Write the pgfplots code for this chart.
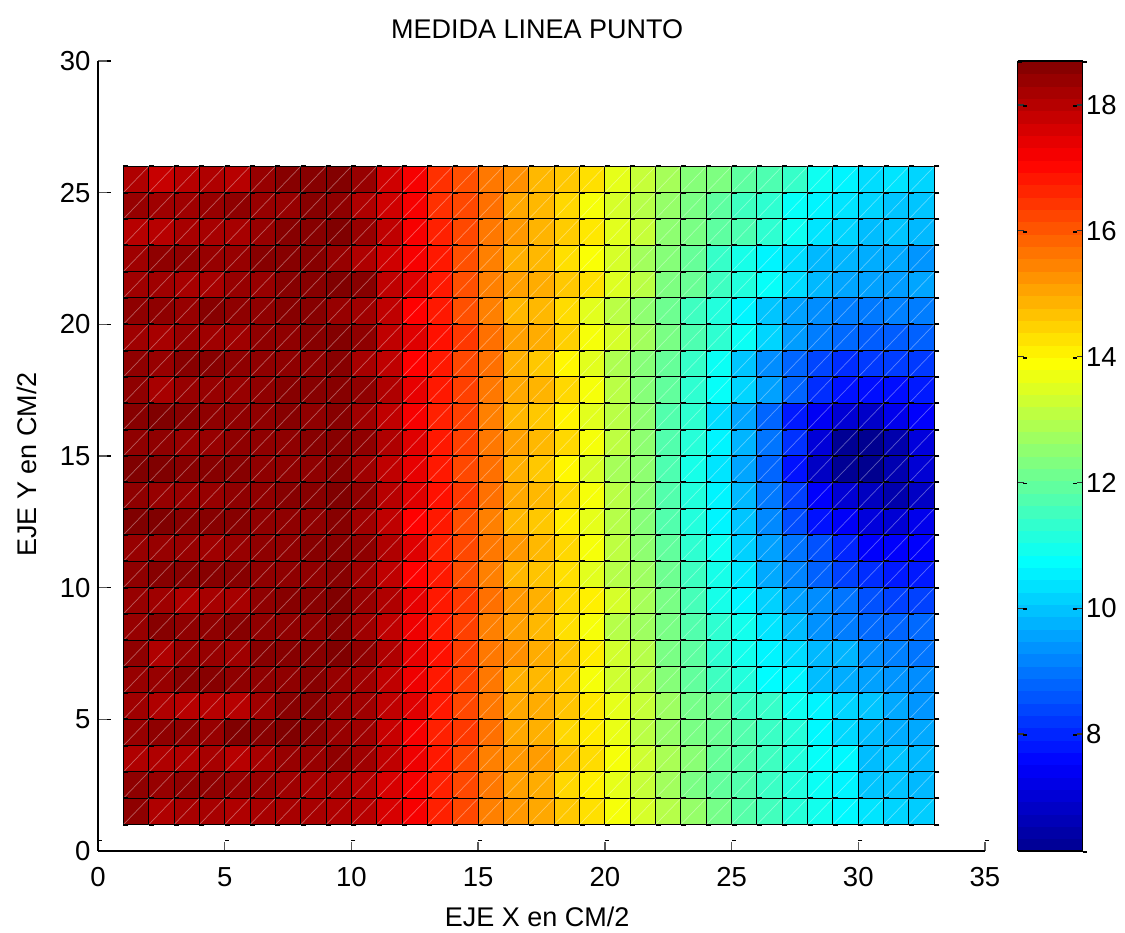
\documentclass[border=0pt]{standalone}
\usepackage{fontspec}
\setmainfont{Liberation Sans}
\usepackage{pgfplots}
\usepackage{pgfplotstable}
\pgfplotsset{compat=1.18}
\newcommand{\bigf}{\fontsize{27}{30}\selectfont}
\newcommand{\tickf}{\fontsize{27.5}{30}\selectfont}
\pgfplotstableread[row sep=crcr]{
c\\
18.5\\18.1\\18.2\\18.2\\18.1\\18.2\\18.2\\18.2\\18.1\\18.0\\17.6\\17.2\\16.7\\16.2\\15.5\\15.2\\15.0\\14.6\\14.3\\13.8\\13.4\\13.0\\12.6\\12.2\\11.8\\11.55\\11.2\\10.95\\10.65\\10.4\\10.2\\10.1\\10.1\\
18.5\\18.4\\18.5\\18.5\\18.4\\18.4\\18.3\\18.2\\18.2\\18.0\\17.6\\17.2\\16.7\\16.2\\15.6\\15.1\\14.95\\14.4\\14.1\\13.6\\13.2\\12.75\\12.25\\11.95\\11.75\\11.45\\11.15\\10.85\\10.6\\10.0\\10.0\\9.85\\9.85\\
18.1\\18.1\\18.1\\18.2\\18.0\\18.2\\18.4\\18.4\\18.5\\18.3\\17.9\\17.3\\16.8\\16.2\\15.5\\15.2\\15.15\\14.7\\14.35\\13.8\\13.3\\12.85\\12.45\\12.0\\11.75\\11.5\\11.15\\10.8\\10.65\\9.9\\10.0\\9.85\\9.85\\
18.4\\18.5\\18.5\\18.4\\18.7\\18.6\\18.7\\18.6\\18.4\\18.3\\17.8\\17.2\\16.7\\16.4\\15.7\\15.0\\14.9\\14.4\\14.15\\13.65\\13.05\\12.6\\12.25\\12.05\\11.75\\11.45\\11.2\\10.65\\10.25\\9.9\\9.7\\9.65\\9.65\\
18.3\\18.1\\18.0\\18.0\\18.0\\18.3\\18.6\\18.6\\18.4\\18.3\\17.9\\17.5\\16.8\\16.2\\15.6\\15.0\\14.95\\14.65\\14.2\\13.6\\13.2\\12.7\\12.2\\12.05\\11.5\\11.4\\10.9\\10.6\\10.2\\10.0\\9.65\\9.4\\9.4\\
18.4\\18.4\\18.6\\18.6\\18.5\\18.5\\18.5\\18.6\\18.4\\18.3\\17.9\\17.3\\16.8\\16.3\\15.6\\14.9\\14.8\\14.55\\13.8\\13.3\\13.0\\12.4\\11.95\\11.5\\11.15\\10.7\\10.6\\9.9\\9.7\\9.55\\9.4\\9.3\\9.3\\
18.5\\18.1\\18.4\\18.4\\18.3\\18.6\\18.6\\18.6\\18.7\\18.5\\18.1\\17.4\\16.9\\16.3\\15.6\\15.3\\14.95\\14.65\\14.15\\13.35\\13.0\\12.25\\11.9\\11.3\\10.95\\10.6\\10.3\\9.85\\9.8\\9.3\\9.15\\9.0\\9.0\\
18.4\\18.6\\18.5\\18.5\\18.6\\18.5\\18.5\\18.5\\18.6\\18.3\\17.9\\17.3\\16.8\\16.3\\15.5\\15.1\\14.8\\14.3\\13.8\\13.0\\12.7\\12.25\\11.75\\11.3\\10.95\\10.4\\9.9\\9.35\\9.1\\8.85\\8.8\\8.85\\8.85\\
18.4\\18.3\\18.1\\18.2\\18.2\\18.5\\18.6\\18.6\\18.7\\18.4\\18.1\\17.4\\16.8\\16.4\\15.7\\15.2\\14.9\\14.4\\14.1\\13.4\\12.8\\12.25\\11.6\\11.0\\10.6\\10.15\\9.55\\9.3\\9.0\\8.55\\8.35\\8.35\\8.35\\
18.5\\18.6\\18.6\\18.6\\18.6\\18.5\\18.5\\18.5\\18.6\\18.3\\17.9\\17.1\\16.8\\16.1\\15.5\\14.8\\14.65\\14.3\\13.55\\13.0\\12.7\\12.1\\11.5\\11.0\\10.45\\9.65\\9.2\\8.75\\8.35\\8.1\\7.85\\7.85\\7.85\\
18.4\\18.4\\18.4\\18.3\\18.4\\18.5\\18.5\\18.6\\18.6\\18.5\\18.1\\17.5\\16.7\\16.2\\15.6\\15.2\\14.8\\14.4\\13.8\\13.1\\12.5\\11.95\\11.3\\10.9\\10.15\\9.55\\9.0\\8.55\\8.0\\7.5\\7.5\\7.5\\7.5\\
18.7\\18.7\\18.6\\18.6\\18.6\\18.5\\18.5\\18.5\\18.6\\18.3\\17.9\\17.1\\16.8\\16.1\\15.5\\14.8\\14.6\\14.1\\13.6\\13.0\\12.4\\11.75\\11.15\\10.6\\10.0\\9.25\\8.5\\7.75\\7.45\\7.1\\7.0\\7.3\\7.3\\
18.5\\18.4\\18.4\\18.4\\18.5\\18.5\\18.6\\18.6\\18.7\\18.5\\18.0\\17.5\\16.9\\16.4\\15.7\\15.0\\14.8\\14.4\\13.8\\13.05\\12.45\\11.75\\11.15\\10.6\\9.85\\9.05\\8.35\\7.5\\7.0\\6.75\\6.5\\6.8\\6.8\\
18.7\\18.7\\18.6\\18.6\\18.6\\18.5\\18.5\\18.5\\18.6\\18.3\\17.9\\17.4\\16.8\\16.2\\15.7\\14.9\\14.6\\14.0\\13.4\\12.8\\12.5\\11.7\\11.0\\10.4\\9.6\\8.8\\7.75\\6.8\\6.2\\6.14\\6.55\\7.0\\7.0\\
18.5\\18.5\\18.4\\18.4\\18.5\\18.5\\18.5\\18.6\\18.6\\18.5\\18.1\\17.5\\16.8\\16.3\\15.6\\15.1\\14.8\\14.4\\13.8\\13.1\\12.5\\11.75\\11.2\\10.6\\9.8\\9.0\\8.15\\7.05\\6.2\\6.15\\6.5\\7.1\\7.1\\
18.6\\18.7\\18.6\\18.5\\18.5\\18.5\\18.6\\18.5\\18.6\\18.3\\17.9\\17.2\\16.7\\16.3\\15.5\\14.8\\14.6\\14.05\\13.55\\13.05\\12.5\\11.75\\11.3\\10.3\\9.6\\8.8\\7.85\\7.4\\7.0\\6.85\\7.3\\7.5\\7.5\\
18.5\\18.2\\18.4\\18.4\\18.4\\18.5\\18.6\\18.6\\18.6\\18.5\\18.1\\17.4\\16.8\\16.3\\15.6\\15.0\\14.85\\14.4\\13.8\\13.05\\12.4\\11.95\\11.3\\10.8\\10.2\\9.55\\8.8\\8.1\\7.75\\7.7\\7.7\\7.85\\7.85\\
18.5\\18.4\\18.6\\18.6\\18.5\\18.5\\18.5\\18.5\\18.6\\18.2\\17.9\\17.1\\16.8\\16.2\\15.7\\14.9\\14.6\\14.0\\13.55\\12.9\\12.4\\12.0\\11.4\\10.85\\10.0\\9.3\\8.8\\8.4\\8.1\\8.25\\8.3\\8.25\\8.25\\
18.3\\18.2\\18.4\\18.3\\18.3\\18.5\\18.5\\18.6\\18.65\\18.5\\17.9\\17.5\\16.9\\16.4\\15.7\\15.1\\14.95\\14.5\\13.8\\13.4\\12.75\\12.25\\11.7\\11.3\\10.85\\10.2\\9.5\\9.1\\8.85\\8.7\\8.7\\8.75\\8.75\\
18.5\\18.5\\18.4\\18.6\\18.5\\18.5\\18.6\\18.6\\18.4\\18.3\\17.9\\17.1\\16.8\\16.1\\15.5\\14.8\\14.8\\14.35\\13.55\\13.05\\12.5\\12.1\\11.5\\11.15\\10.6\\10.0\\9.55\\9.3\\9.1\\9.05\\9.15\\9.1\\9.1\\
18.3\\18.3\\18.2\\18.2\\18.4\\18.4\\18.6\\18.6\\18.7\\18.6\\17.9\\17.5\\16.8\\16.1\\15.5\\15.1\\14.95\\14.6\\14.3\\13.5\\13.05\\12.3\\12.05\\11.5\\11.15\\10.8\\10.3\\9.85\\9.6\\9.55\\9.5\\9.6\\9.6\\
18.3\\18.5\\18.5\\18.4\\18.4\\18.6\\18.6\\18.6\\18.4\\18.1\\17.7\\17.2\\16.8\\16.1\\15.5\\14.9\\14.8\\14.3\\13.85\\13.4\\12.75\\12.4\\12.0\\11.4\\11.0\\10.6\\10.3\\9.85\\9.8\\9.7\\9.65\\9.4\\9.4\\
18.0\\18.0\\18.2\\18.2\\18.2\\18.4\\18.6\\18.6\\18.7\\18.4\\17.9\\17.2\\16.7\\16.2\\15.6\\15.2\\14.85\\14.55\\14.2\\13.55\\13.2\\12.5\\12.25\\11.9\\11.7\\11.3\\10.9\\10.4\\10.2\\9.9\\10.0\\9.85\\9.85\\
18.4\\18.3\\18.3\\18.4\\18.5\\18.4\\18.4\\18.6\\18.5\\18.1\\17.7\\17.2\\16.5\\16.2\\15.7\\15.0\\14.8\\14.4\\13.8\\13.4\\13.0\\12.6\\12.25\\11.9\\11.5\\11.3\\10.8\\10.6\\10.4\\10.2\\10.0\\10.0\\10.0\\
18.1\\17.8\\18.0\\18.1\\18.0\\18.4\\18.6\\18.6\\18.65\\18.4\\17.7\\17.2\\16.5\\16.1\\15.6\\15.3\\14.8\\14.6\\14.3\\13.6\\13.2\\12.8\\12.4\\12.3\\11.9\\11.7\\11.4\\10.9\\10.6\\10.3\\10.4\\10.2\\10.2\\
18.1\\17.8\\18.0\\18.1\\18.0\\18.4\\18.6\\18.6\\18.65\\18.4\\17.7\\17.2\\16.5\\16.1\\15.6\\15.3\\14.8\\14.6\\14.3\\13.6\\13.2\\12.8\\12.4\\12.3\\11.9\\11.7\\11.4\\10.9\\10.6\\10.3\\10.4\\10.2\\10.2\\
}\cells
\pgfplotstablecreatecol[create col/expr={mod(\pgfplotstablerow,33)+1}]{xc}{\cells}
\pgfplotstablecreatecol[create col/expr={floor((\pgfplotstablerow+0.5)/33)+1}]{yc}{\cells}
\begin{document}
\begin{tikzpicture}[x=1pt,y=1pt]
\path[use as bounding box] (0,0) rectangle (1125,933);
\begin{axis}[
  at={(98pt,82pt)}, anchor=south west,
  scale only axis, width=887pt, height=790pt,
  xmin=0, xmax=35, ymin=0, ymax=30,
  axis lines=left, axis line style={-, line width=1.5pt},
  xtick={0,5,...,35}, ytick={0,5,...,30},
  tick align=inside, major tick length=9pt,
  tick style={color=black!65, line width=1.3pt},
  /pgf/number format/assume math mode=true,
  ticklabel style={font=\tickf},
  xticklabel style={yshift=-13pt}, yticklabel style={xshift=-4pt},
  title={MEDIDA LINEA PUNTO},
  title style={font=\bigf, at={(0.495,1)}, anchor=center, yshift=26pt},
  xlabel={EJE X en CM/2},
  xlabel style={font=\bigf, at={(0.495,0)}, anchor=center, yshift=-66pt},
  ylabel={EJE Y en CM/2},
  ylabel style={font=\bigf, at={(-0.08,0.489)}, anchor=center},
  colormap={mjet}{rgb(0cm)=(0,0,0.5625); rgb(7cm)=(0,0,1); rgb(23cm)=(0,1,1); rgb(39cm)=(1,1,0); rgb(55cm)=(1,0,0); rgb(63cm)=(0.5,0,0)},
  point meta min=6.14, point meta max=18.7,
  colorbar sampled,
  colorbar style={
    samples=65,
    scale only axis, width=65pt, height=790pt,
    at={(parent axis.south east)}, anchor=south west, xshift=24pt,
    ytick={8,10,12,14,16,18},
    tick align=inside, major tick length=6pt,
    ytick pos=both, yticklabel pos=right,
    tick style={color=black!80, line width=1.2pt},
    axis line style={line width=1.5pt},
    /pgf/number format/assume math mode=true,
    yticklabel style={font=\tickf, xshift=0pt},
    extra description/.code={
      \foreach \v in {8,10,12,14,16,18} {
        \draw[black,line width=1.8pt] (axis cs:0.09,\v) ++(0,-1pt) -- ++(4pt,0);
        \draw[black,line width=1.8pt] (axis cs:0.91,\v) ++(0,-1pt) -- ++(-4pt,0);
      }
      \draw[black,line width=1.8pt] (axis cs:0,18.7) ++(0,-1pt) -- ++(4pt,0);
      \draw[black,line width=1.8pt] (axis cs:1,18.7) ++(0,-1pt) -- ++(4pt,0);
      \draw[black,line width=1.8pt] (axis cs:1,6.14) ++(0,-1pt) -- ++(4pt,0);
    },
  },
  clip=false,
]
\addplot[surf, shader=flat corner, draw=black, mesh/cols=33, mesh/ordering=x varies, point meta=explicit, line width=1pt, forget plot]
  table[x=xc, y=yc, meta=c] {\cells};
\addplot[white, opacity=0.35, line width=0.7pt, forget plot, unbounded coords=jump] coordinates {
(1,25)(2,26) (nan,nan)(1,24)(3,26) (nan,nan)(1,23)(4,26) (nan,nan)(1,22)(5,26) (nan,nan)(1,21)(6,26) (nan,nan)(1,20)(7,26) (nan,nan)(1,19)(8,26) (nan,nan)(1,18)(9,26) (nan,nan)
(1,17)(10,26) (nan,nan)(1,16)(11,26) (nan,nan)(1,15)(12,26) (nan,nan)(1,14)(13,26) (nan,nan)(1,13)(14,26) (nan,nan)(1,12)(15,26) (nan,nan)(1,11)(16,26) (nan,nan)(1,10)(17,26) (nan,nan)
(1,9)(18,26) (nan,nan)(1,8)(19,26) (nan,nan)(1,7)(20,26) (nan,nan)(1,6)(21,26) (nan,nan)(1,5)(22,26) (nan,nan)(1,4)(23,26) (nan,nan)(1,3)(24,26) (nan,nan)(1,2)(25,26) (nan,nan)
(1,1)(26,26) (nan,nan)(2,1)(27,26) (nan,nan)(3,1)(28,26) (nan,nan)(4,1)(29,26) (nan,nan)(5,1)(30,26) (nan,nan)(6,1)(31,26) (nan,nan)(7,1)(32,26) (nan,nan)(8,1)(33,26) (nan,nan)
(9,1)(33,25) (nan,nan)(10,1)(33,24) (nan,nan)(11,1)(33,23) (nan,nan)(12,1)(33,22) (nan,nan)(13,1)(33,21) (nan,nan)(14,1)(33,20) (nan,nan)(15,1)(33,19) (nan,nan)(16,1)(33,18) (nan,nan)
(17,1)(33,17) (nan,nan)(18,1)(33,16) (nan,nan)(19,1)(33,15) (nan,nan)(20,1)(33,14) (nan,nan)(21,1)(33,13) (nan,nan)(22,1)(33,12) (nan,nan)(23,1)(33,11) (nan,nan)(24,1)(33,10) (nan,nan)
(25,1)(33,9) (nan,nan)(26,1)(33,8) (nan,nan)(27,1)(33,7) (nan,nan)(28,1)(33,6) (nan,nan)(29,1)(33,5) (nan,nan)(30,1)(33,4) (nan,nan)(31,1)(33,3) (nan,nan)(32,1)(33,2)
};
\pgfplotsinvokeforeach{1,...,26}{
\addplot[only marks, black, mark=-, mark size=2.5pt, forget plot, mark options={xshift=2.5pt, line width=2pt}] coordinates {
(1,#1)(2,#1)(3,#1)(4,#1)(5,#1)(6,#1)(7,#1)(8,#1)(9,#1)(10,#1)(11,#1)(12,#1)(13,#1)(14,#1)(15,#1)(16,#1)(17,#1)(18,#1)(19,#1)(20,#1)(21,#1)(22,#1)(23,#1)(24,#1)(25,#1)(26,#1)(27,#1)(28,#1)(29,#1)(30,#1)(31,#1)(32,#1)(33,#1)};
}
\addplot[only marks, black, mark=-, mark size=2pt, forget plot, mark options={xshift=2pt, line width=1.6pt}] coordinates {
(0,0.4)(5,0.4)(10,0.4)(15,0.4)(20,0.4)(25,0.4)(30,0.4)(35,0.4)
(0.35,0)(0.35,5)(0.35,10)(0.35,15)(0.35,20)(0.35,25)(0.35,30)};
\end{axis}
\end{tikzpicture}
\end{document}
